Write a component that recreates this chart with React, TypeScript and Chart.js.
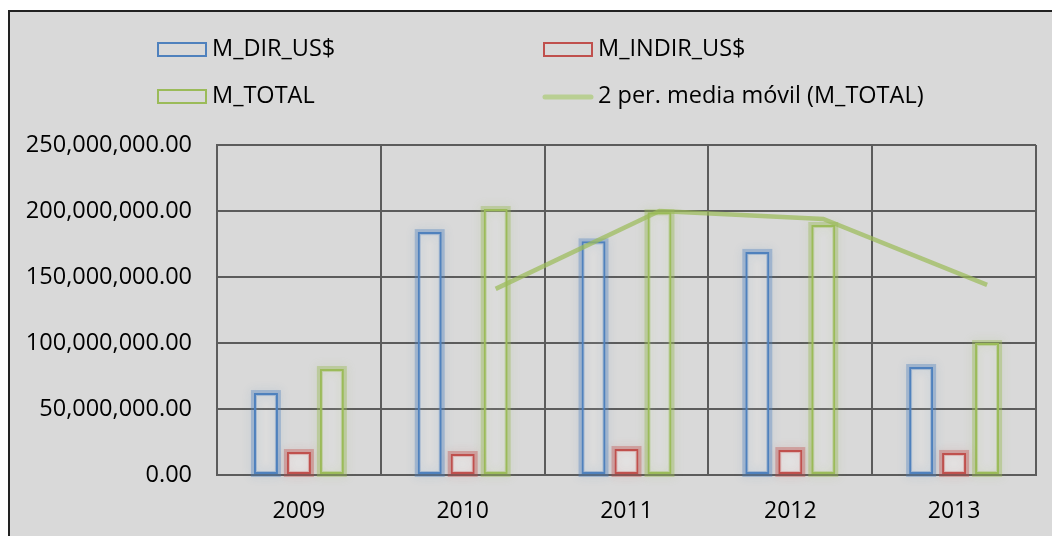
import React, { useEffect, useRef } from "react";
import { Chart, registerables } from "chart.js";
Chart.register(...registerables);

const categories = ["2009", "2010", "2011", "2012", "2013"];
const mDirUsd = [62.1e6, 184e6, 177e6, 169e6, 81.8e6];
const mIndirUsd = [17.4e6, 15.9e6, 19.7e6, 18.9e6, 16.7e6];
const mTotal = [80.3e6, 201.5e6, 199e6, 189.4e6, 100e6];
const movingAvg: (number | null)[] = [null, 141e6, 200e6, 194e6, 144e6];
const seriesLabels = ["M_DIR_US$", "M_INDIR_US$", "M_TOTAL", "2 per. media móvil (M_TOTAL)"];
const yMin = 0;
const yMax = 250e6;
const yStep = 50e6;

const FONT = "'Open Sans', 'DejaVu Sans', sans-serif";
const BLUE = "#4F81BD";
const RED = "#C0504D";
const GREEN = "#9BBB59";
const GRID = "#5c5c5c";

const CAT_PCT = 0.604;
const BAR_PCT = 0.727;

const glowPlugin = {
  id: "glow",
  beforeDatasetDraw(chart: any, args: any) {
    const meta = args.meta;
    const ctx = chart.ctx;
    const ds = chart.data.datasets[args.index];
    if (meta.type === "line") {
      // align the trendline with the M_TOTAL bars (as the spreadsheet does)
      const totalMeta = chart.getDatasetMeta(2);
      const xs = chart.scales.x;
      const shiftPx = totalMeta.data[0].x - xs.getPixelForValue(0);
      ctx.save();
      ctx.translate(shiftPx, 0);
      return;
    }
    if (meta.type !== "bar") return;
    ctx.save();
    ctx.shadowColor = ds.glowColor;
    ctx.shadowBlur = 10;
    ctx.strokeStyle = ds.glowColor;
    ctx.lineWidth = 6;
    meta.data.forEach((el: any) => {
      const { x, y, base, width } = el.getProps(["x", "y", "base", "width"], true);
      ctx.strokeRect(x - width / 2, y, width, base - y);
    });
    ctx.restore();
  },
  afterDatasetDraw(chart: any, args: any) {
    if (args.meta.type === "line") chart.ctx.restore();
  },
};

const legendPlugin = {
  id: "customLegend",
  afterDraw(chart: any) {
    const ctx = chart.ctx;
    const cols = [147, 533];
    const rows = [37, 84];
    const ds = chart.data.datasets;
    ctx.save();
    ctx.font = `23.5px ${FONT}`;
    ctx.textBaseline = "middle";
    ctx.textAlign = "left";
    ds.forEach((d: any, i: number) => {
      const x = cols[i % 2];
      const y = rows[Math.floor(i / 2)];
      if (d.type === "line") {
        ctx.strokeStyle = "#b9cf93";
        ctx.lineWidth = 5;
        ctx.lineCap = "round";
        ctx.beginPath();
        ctx.moveTo(x + 2, y + 1);
        ctx.lineTo(x + 48, y + 1);
        ctx.stroke();
      } else {
        ctx.strokeStyle = d.borderColor;
        ctx.lineWidth = 2;
        ctx.strokeRect(x + 1, y - 6, 48, 13);
      }
      ctx.fillStyle = "#000";
      ctx.fillText(d.label, x + 55, y);
    });
    ctx.restore();
  },
};

export default function App() {
  const ref = useRef<HTMLCanvasElement | null>(null);
  useEffect(() => {
    if (!ref.current) return;
    const barCommon = {
      type: "bar",
      borderWidth: 2,
      borderSkipped: false,
      categoryPercentage: CAT_PCT,
      barPercentage: BAR_PCT,
      order: 1,
    };
    const chart = new Chart(ref.current, {
      type: "bar",
      data: {
        labels: categories,
        datasets: [
          {
            ...barCommon,
            label: seriesLabels[0],
            data: mDirUsd,
            borderColor: BLUE,
            backgroundColor: "rgba(255,255,255,0.08)",
            glowColor: "rgba(79,129,189,0.38)",
          } as any,
          {
            ...barCommon,
            label: seriesLabels[1],
            data: mIndirUsd,
            borderColor: RED,
            backgroundColor: "rgba(255,255,255,0.25)",
            glowColor: "rgba(192,80,77,0.38)",
          } as any,
          {
            ...barCommon,
            label: seriesLabels[2],
            data: mTotal,
            borderColor: GREEN,
            backgroundColor: "rgba(255,255,255,0.08)",
            glowColor: "rgba(155,187,89,0.42)",
          } as any,
          {
            type: "line",
            label: seriesLabels[3],
            data: movingAvg as any,
            borderColor: "rgba(155,187,89,0.72)",
            borderWidth: 4.5,
            pointRadius: 0,
            tension: 0,
            fill: false,
            clip: false,
            order: 0,
          } as any,
        ],
      },
      options: {
        responsive: false,
        animation: false,
        layout: { padding: { top: 133, right: 16, left: 0, bottom: 0 } },
        plugins: { legend: { display: false }, tooltip: { enabled: false } },
        scales: {
          x: {
            type: "category",
            offset: true,
            grid: { offset: true, color: GRID, lineWidth: 2, drawTicks: false },
            border: { display: true, color: GRID, width: 2 },
            ticks: { color: "#000", font: { family: FONT, size: 23 }, padding: 23 },
            afterFit: (s: any) => {
              s.height = 61;
            },
          },
          y: {
            min: yMin,
            max: yMax,
            ticks: {
              stepSize: yStep,
              color: "#000",
              font: { family: FONT, size: 23.5 },
              padding: 25,
              callback: (v: any) =>
                Number(v).toLocaleString("en-US", { minimumFractionDigits: 2, maximumFractionDigits: 2 }),
            },
            grid: { color: GRID, lineWidth: 2, drawTicks: false },
            border: { display: true, color: GRID, width: 2 },
            afterFit: (s: any) => {
              s.width = 207;
            },
          },
        },
      } as any,
      plugins: [glowPlugin, legendPlugin],
    });
    return () => chart.destroy();
  }, []);

  return (
    <div
      style={{
        position: "absolute",
        left: 8,
        top: 10,
        width: 1044,
        height: 526,
        boxSizing: "border-box",
        borderTop: "2px solid #222",
        borderLeft: "2px solid #222",
        background: "#d9d9d9",
        overflow: "hidden",
      }}
    >
      <canvas ref={ref} width={1042} height={524} style={{ display: "block" }} />
    </div>
  );
}
